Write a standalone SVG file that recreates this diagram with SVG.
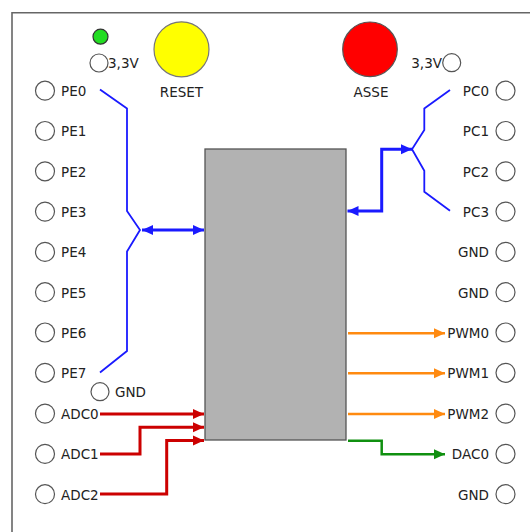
<svg xmlns="http://www.w3.org/2000/svg" width="530" height="532" viewBox="0 0 530 532">
<style>
text{font-family:"DejaVu Sans","Verdana",sans-serif;font-size:13.5px;fill:#222}
.pin{fill:#fff;stroke:#555;stroke-width:1.2}
.r{text-anchor:end}
.c{text-anchor:middle}
.thin{fill:none;stroke:#1a1aff;stroke-width:1.8}
.bus{fill:none;stroke:#1a1aff;stroke-width:3}
.adc{fill:none;stroke:#cc0000;stroke-width:3}
.pwm{fill:none;stroke:#ff8a10;stroke-width:2.5}
.dac{fill:none;stroke:#109010;stroke-width:2.5}
</style>
<defs>
<marker id="ab" markerUnits="userSpaceOnUse" markerWidth="12" markerHeight="12" viewBox="0 0 12 12" refX="11" refY="6" orient="auto-start-reverse"><path d="M0,1 L11,6 L0,11 Z" fill="#1a1aff"/></marker>
<marker id="ar" markerUnits="userSpaceOnUse" markerWidth="12" markerHeight="12" viewBox="0 0 12 12" refX="11" refY="6" orient="auto"><path d="M0,1 L11,6 L0,11 Z" fill="#cc0000"/></marker>
<marker id="ao" markerUnits="userSpaceOnUse" markerWidth="12" markerHeight="12" viewBox="0 0 12 12" refX="11" refY="6" orient="auto"><path d="M0,1 L11,6 L0,11 Z" fill="#ff8a10"/></marker>
<marker id="ag" markerUnits="userSpaceOnUse" markerWidth="12" markerHeight="12" viewBox="0 0 12 12" refX="11" refY="6" orient="auto"><path d="M0,1 L11,6 L0,11 Z" fill="#109010"/></marker>
</defs>
<rect width="530" height="532" fill="#fff"/>
<path d="M12,532 V12.7 H530" fill="none" stroke="#666" stroke-width="1.6"/>

<g id="chip"><rect x="205" y="149" width="141" height="291" fill="#b2b2b2" stroke="#555" stroke-width="1.3"/></g>

<g id="led"><circle cx="100.5" cy="36.7" r="7.5" fill="#22dd22" stroke="#333" stroke-width="1.2"/></g>
<g id="v33l"><circle class="pin" cx="99" cy="63" r="9"/><text x="108" y="68">3,3V</text></g>
<g id="reset"><circle cx="181.5" cy="49.3" r="27.5" fill="#ffff00" stroke="#777" stroke-width="1.2"/><text class="c" x="181.5" y="96.5">RESET</text></g>
<g id="asse"><circle cx="370" cy="49.3" r="27.3" fill="#ff0000" stroke="#555" stroke-width="1.2"/><text class="c" x="371" y="96.5">ASSE</text></g>
<g id="v33r"><circle class="pin" cx="451.7" cy="62.7" r="9"/><text class="r" x="442" y="68">3,3V</text></g>
<g id="gndl"><circle class="pin" cx="100" cy="391.7" r="9"/><text x="115" y="397">GND</text></g>

<g id="PE0"><circle class="pin" cx="45" cy="90.7" r="9.5"/><text x="61" y="96">PE0</text></g>
<g id="PE1"><circle class="pin" cx="45" cy="131" r="9.5"/><text x="61" y="136.3">PE1</text></g>
<g id="PE2"><circle class="pin" cx="45" cy="171.3" r="9.5"/><text x="61" y="176.6">PE2</text></g>
<g id="PE3"><circle class="pin" cx="45" cy="211.6" r="9.5"/><text x="61" y="216.9">PE3</text></g>
<g id="PE4"><circle class="pin" cx="45" cy="251.9" r="9.5"/><text x="61" y="257.2">PE4</text></g>
<g id="PE5"><circle class="pin" cx="45" cy="292.2" r="9.5"/><text x="61" y="297.5">PE5</text></g>
<g id="PE6"><circle class="pin" cx="45" cy="332.5" r="9.5"/><text x="61" y="337.8">PE6</text></g>
<g id="PE7"><circle class="pin" cx="45" cy="372.8" r="9.5"/><text x="61" y="378.1">PE7</text></g>
<g id="ADC0"><circle class="pin" cx="45" cy="413.6" r="9.5"/><text x="61" y="418.9">ADC0</text></g>
<g id="ADC1"><circle class="pin" cx="45" cy="453.9" r="9.5"/><text x="61" y="459.2">ADC1</text></g>
<g id="ADC2"><circle class="pin" cx="45" cy="494.2" r="9.5"/><text x="61" y="499.5">ADC2</text></g>

<g id="PC0"><circle class="pin" cx="505.5" cy="90.7" r="9.5"/><text class="r" x="489" y="96">PC0</text></g>
<g id="PC1"><circle class="pin" cx="505.5" cy="131" r="9.5"/><text class="r" x="489" y="136.3">PC1</text></g>
<g id="PC2"><circle class="pin" cx="505.5" cy="171.3" r="9.5"/><text class="r" x="489" y="176.6">PC2</text></g>
<g id="PC3"><circle class="pin" cx="505.5" cy="211.6" r="9.5"/><text class="r" x="489" y="216.9">PC3</text></g>
<g id="GND1"><circle class="pin" cx="505.5" cy="251.9" r="9.5"/><text class="r" x="489" y="257.2">GND</text></g>
<g id="GND2"><circle class="pin" cx="505.5" cy="292.2" r="9.5"/><text class="r" x="489" y="297.5">GND</text></g>
<g id="PWM0"><circle class="pin" cx="505.5" cy="332.5" r="9.5"/><text class="r" x="489" y="337.8">PWM0</text></g>
<g id="PWM1"><circle class="pin" cx="505.5" cy="372.8" r="9.5"/><text class="r" x="489" y="378.1">PWM1</text></g>
<g id="PWM2"><circle class="pin" cx="505.5" cy="413.6" r="9.5"/><text class="r" x="489" y="418.9">PWM2</text></g>
<g id="DAC0"><circle class="pin" cx="505.5" cy="453.9" r="9.5"/><text class="r" x="489" y="459.2">DAC0</text></g>
<g id="GND3"><circle class="pin" cx="505.5" cy="494.2" r="9.5"/><text class="r" x="489" y="499.5">GND</text></g>

<g id="connectors">
<path class="thin" d="M100,89.5 L127,108.5 V211 L140,230 L127,251.5 V351 L100,372.5"/>
<path class="bus" d="M142,230 H204" marker-start="url(#ab)" marker-end="url(#ab)"/>
<path class="thin" d="M450,90 L424.3,108.5 V130 L412,149.3 L424.3,170.7 V191.7 L450,210.7"/>
<path class="bus" d="M412,149.3 H381.7 V211 H347.5" marker-start="url(#ab)" marker-end="url(#ab)"/>
<path class="adc" d="M100,414 H204" marker-end="url(#ar)"/>
<path class="adc" d="M100,454 H140 V427.3 H204" marker-end="url(#ar)"/>
<path class="adc" d="M100,494 H166.7 V440.5 H204" marker-end="url(#ar)"/>
<path class="pwm" d="M348,333.3 H445" marker-end="url(#ao)"/>
<path class="pwm" d="M348,373.3 H445" marker-end="url(#ao)"/>
<path class="pwm" d="M348,414 H445" marker-end="url(#ao)"/>
<path class="dac" d="M348,440.7 H381.7 V454.3 H445" marker-end="url(#ag)"/>
</g>
</svg>
